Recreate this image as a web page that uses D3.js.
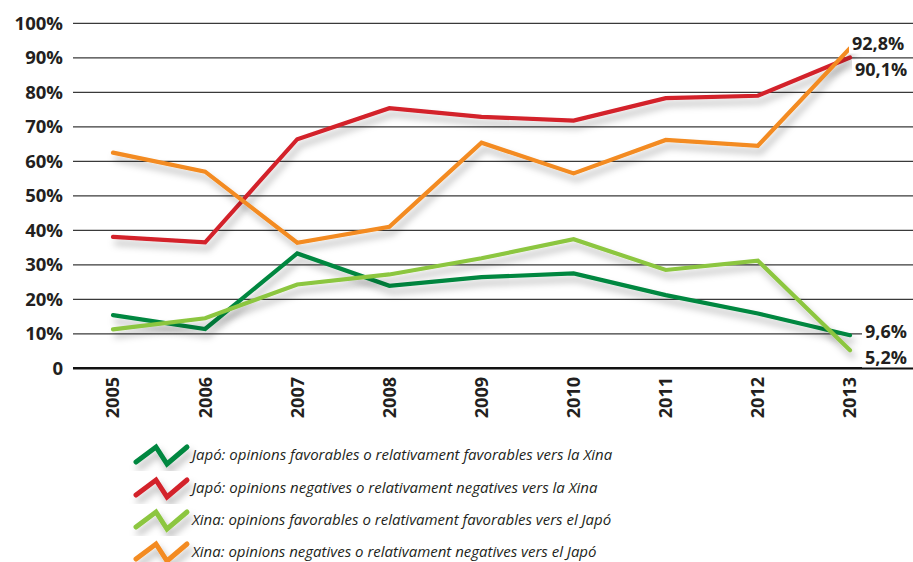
<!DOCTYPE html>
<html><head><meta charset="utf-8">
<script src="https://cdn.jsdelivr.net/npm/d3@7/dist/d3.min.js"></script>
<style>body{margin:0;background:#fff}svg{display:block}</style>
</head><body>
<svg id="c" width="913" height="562"></svg>
<script>
const years = ["2005","2006","2007","2008","2009","2010","2011","2012","2013"];
const japoFav = [15.4, 11.4, 33.3, 23.9, 26.4, 27.5, 21.2, 15.9, 9.6];
const japoNeg = [38.1, 36.5, 66.4, 75.4, 72.9, 71.8, 78.3, 79.0, 90.1];
const xinaFav = [11.3, 14.5, 24.3, 27.2, 31.9, 37.4, 28.5, 31.2, 5.2];
const xinaNeg = [62.5, 57.0, 36.4, 41.0, 65.4, 56.5, 66.2, 64.5, 92.8];
const yTicks = [0,10,20,30,40,50,60,70,80,90,100];
const seriesNames = [
  "Japó: opinions favorables o relativament favorables vers la Xina",
  "Japó: opinions negatives o relativament negatives vers la Xina",
  "Xina: opinions favorables o relativament favorables vers el Japó",
  "Xina: opinions negatives o relativament negatives vers el Japó"
];
const colors = ["#00873f","#d3202b","#8cc63f","#f38b20"];
const endLabels = ["9,6%","90,1%","5,2%","92,8%"];

const series = [japoFav, japoNeg, xinaFav, xinaNeg];
const svg = d3.select("#c");
const defs = svg.append("defs");
const f = defs.append("filter").attr("id","sh").attr("x","-20%").attr("y","-20%").attr("width","140%").attr("height","160%");
f.append("feDropShadow").attr("dx",3).attr("dy",6).attr("stdDeviation",3.5).attr("flood-color","#000").attr("flood-opacity",0.28);

const x = d3.scalePoint().domain(years).range([113, 850]);
const y = d3.scaleLinear().domain([0,100]).range([368.3, 23.3]);

// gridlines
svg.append("g").selectAll("line").data(yTicks.filter(d=>d>0)).join("line")
  .attr("x1",73).attr("x2",913).attr("y1",d=>y(d)).attr("y2",d=>y(d))
  .attr("stroke","#3a3a3a").attr("stroke-width",1.3);
svg.append("line").attr("x1",73).attr("x2",913).attr("y1",y(0)).attr("y2",y(0))
  .attr("stroke","#111").attr("stroke-width",2.6);

// y labels
svg.append("g").selectAll("text").data(yTicks).join("text")
  .attr("x",63).attr("y",d=>y(d)).attr("dy","0.36em").attr("text-anchor","end")
  .attr("font-family","'Open Sans', sans-serif").attr("font-weight",700).attr("font-size",18.5)
  .attr("fill","#231f20").text(d=>d===0?"0":d+"%");

// x labels
svg.append("g").selectAll("text").data(years).join("text")
  .attr("transform",d=>`translate(${x(d)},377) rotate(-90)`)
  .attr("text-anchor","end").attr("dy","0.36em")
  .attr("font-family","'Open Sans', sans-serif").attr("font-weight",700).attr("font-size",18)
  .attr("fill","#231f20").text(d=>d);

// lines
const line = d3.line().x((d,i)=>x(years[i])).y(d=>y(d));
const order = [0,2,1,3];
svg.append("g").selectAll("path").data(order).join("path")
  .attr("d",k=>line(series[k])).attr("fill","none").attr("stroke",k=>colors[k])
  .attr("stroke-width",4.2).attr("stroke-linejoin","miter").attr("stroke-linecap","round")
  .attr("filter","url(#sh)");

// end labels
const endPos = [[865, 332],[855, 70],[865, 358],[852, 44]];
const lg = svg.append("g");
endLabels.forEach((t,k)=>{
  const tx = lg.append("text").attr("x",endPos[k][0]).attr("y",endPos[k][1]).attr("dy","0.36em")
    .attr("font-family","'Open Sans', sans-serif").attr("font-weight",700).attr("font-size",18)
    .attr("fill","#231f20").text(t);
  const bb = tx.node().getBBox();
  lg.insert("rect", () => tx.node()).attr("x",bb.x-3).attr("y",bb.y+2).attr("width",913-bb.x+3).attr("height",bb.height-4).attr("fill","#fff");
});

// legend
const leg = svg.append("g");
const legY = [455, 488, 520, 552];
seriesNames.forEach((name,k)=>{
  const cy = legY[k];
  const pts = [[136,cy+7],[156,cy-8],[167,cy+9],[187,cy-8]];
  leg.append("path").attr("d",d3.line()(pts)).attr("fill","none").attr("stroke",colors[k])
    .attr("stroke-width",5).attr("stroke-linecap","round").attr("stroke-linejoin","miter").attr("filter","url(#sh)");
  leg.append("text").attr("x",192).attr("y",cy).attr("dy","0.35em")
    .attr("font-family","'Open Sans', sans-serif").attr("font-style","italic").attr("font-size",15)
    .attr("fill","#231f20").text(name);
});
</script>
</body></html>
